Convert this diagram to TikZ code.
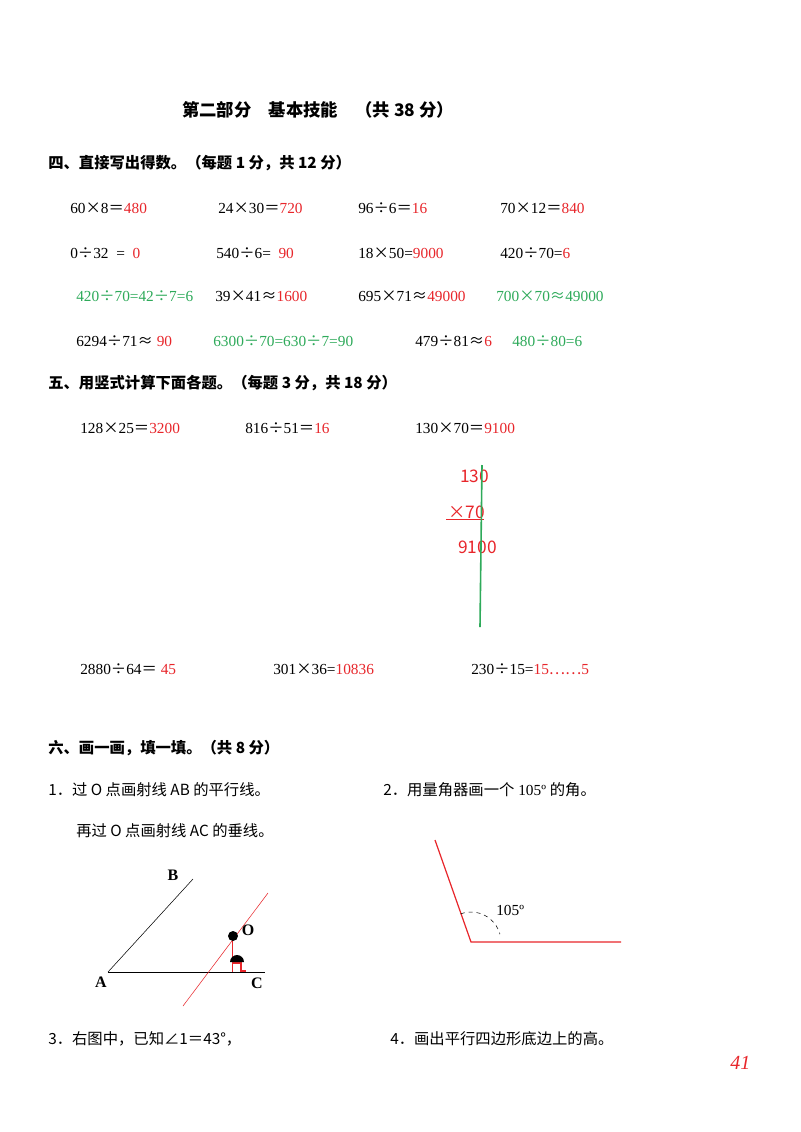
\documentclass[tikz,border=0pt]{standalone}
\usepackage{fontspec}
\setmainfont{Liberation Serif}
\newfontfamily\cjk{Noto Sans CJK SC}
\newcommand{\C}[1]{{\cjk #1}}
\newcommand{\X}{{\cjk ×}}
\newcommand{\D}{{\cjk ÷}}
\newcommand{\A}{{\cjk ≈}}
\definecolor{rd}{HTML}{E8262B}
\definecolor{gn}{HTML}{2EAA5A}
\begin{document}
\begin{tikzpicture}[x=0.75pt,y=-0.75pt,
  t/.style={anchor=west,inner sep=0pt,font=\fontsize{11.5}{13}\selectfont},
  h/.style={anchor=west,inner sep=0pt,font=\fontsize{11.5}{13}\selectfont\cjk\bfseries},
  lb/.style={inner sep=0pt,font=\fontsize{12}{12}\selectfont\bfseries}]
\useasboundingbox (0,0) rectangle (800,1132);
\fill[white] (0,0) rectangle (800,1132);
\node[h,font=\fontsize{13}{15}\selectfont\cjk\bfseries] (title) at (182,110) {第二部分\quad 基本技能\quad （共 38 分）};
\node[h] (s4) at (48,163) {四、直接写出得数。（每题 1 分，共 12 分）};
\node[t] (a1) at (70,208) {60\X8\C{＝}\textcolor{rd}{480}};
\node[t] (a2) at (218,208) {24\X30\C{＝}\textcolor{rd}{720}};
\node[t] (a3) at (358,208) {96\D6\C{＝}\textcolor{rd}{16}};
\node[t] (a4) at (500,208) {70\X12\C{＝}\textcolor{rd}{840}};
\node[t] (b1) at (70,253) {0\D32 \ = \ \textcolor{rd}{0}};
\node[t] (b2) at (216,253) {540\D6= \ \textcolor{rd}{90}};
\node[t] (b3) at (358,253) {18\X50=\textcolor{rd}{9000}};
\node[t] (b4) at (500,253) {420\D70=\textcolor{rd}{6}};
\node[t,gn] (c1) at (76,296) {420\D70=42\D7=6};
\node[t] (c2) at (215,296) {39\X41\A\textcolor{rd}{1600}};
\node[t] (c3) at (358,296) {695\X71\A\textcolor{rd}{49000}};
\node[t,gn] (c4) at (496,296) {700\X70\A49000};
\node[t] (d1) at (76,341) {6294\D71\A\ \textcolor{rd}{90}};
\node[t,gn] (d2) at (213,341) {6300\D70=630\D7=90};
\node[t] (d3) at (415,341) {479\D81\A\textcolor{rd}{6}};
\node[t,gn] (d4) at (512,341) {480\D80=6};
\node[h] (s5) at (48,383) {五、用竖式计算下面各题。（每题 3 分，共 18 分）};
\node[t] (e1) at (80,428) {128\X25\C{＝}\textcolor{rd}{3200}};
\node[t] (e2) at (245,428) {816\D51\C{＝}\textcolor{rd}{16}};
\node[t] (e3) at (415,428) {130\X70\C{＝}\textcolor{rd}{9100}};
\node[t,rd,font=\fontsize{13}{14}\selectfont\cjk] (v1) at (460,476) {130};
\node[t,rd,font=\fontsize{13}{14}\selectfont\cjk] (v2) at (448,512) {×70};
\node[t,rd,font=\fontsize{13}{14}\selectfont\cjk] (v3) at (458,547) {9100};
\draw[rd] (446,519) -- (484,519);
\draw[gn,line width=1.2pt] (482,465) -- (480,627);
\node[t] (f1) at (80,669) {2880\D64\C{＝} \textcolor{rd}{45}};
\node[t] (f2) at (273,669) {301\X36=\textcolor{rd}{10836}};
\node[t] (f3) at (471,669) {230\D15=\textcolor{rd}{15\C{……}5}};
\node[h] (s6) at (48,748) {六、画一画，填一填。（共 8 分）};
\node[t] (g1) at (48,790) {\C{1．过 O 点画射线 AB 的平行线。}};
\node[t] (g2) at (76,831) {\C{再过 O 点画射线 AC 的垂线。}};
\node[t] (g3) at (383,790) {\C{2．用量角器画一个} 105º \C{的角。}};
% figure 1
\coordinate (A) at (108,972); \coordinate (C) at (265,972); \coordinate (B) at (193,879);
\draw (A) -- (C); \draw (A) -- (B);
\draw[rd] (183,1006) -- (268,893);
\draw[rd] (232,936) -- (232,972);
\draw[rd,thick] (232,963) -- (241,963) -- (241,971) -- (246,971);
\fill (233,936) circle (5);
\fill (230,962) arc (180:360:7) -- cycle;
\node[lb] (lB) at (173,875) {B};
\node[lb] (lO) at (248,930) {O};
\node[lb] (lA) at (101,982) {A};
\node[lb] (lC) at (257,983) {C};
% figure 2
\coordinate (V) at (471,942);
\draw[rd,line width=0.9pt] (435,840) -- (V) -- (621,942);
\draw[dashed] (V) ++(-110:30) arc (-110:-15:30);
\node[t] (ang) at (496,910) {105º};
\node[t] (g4) at (48,1039) {\C{3．右图中，已知∠1＝43°，}};
\node[t] (g5) at (390,1039) {\C{4．画出平行四边形底边上的高。}};
\node[t,rd,font=\fontsize{15}{16}\selectfont\itshape] (pg) at (730,1063) {41};
\end{tikzpicture}
\end{document}
